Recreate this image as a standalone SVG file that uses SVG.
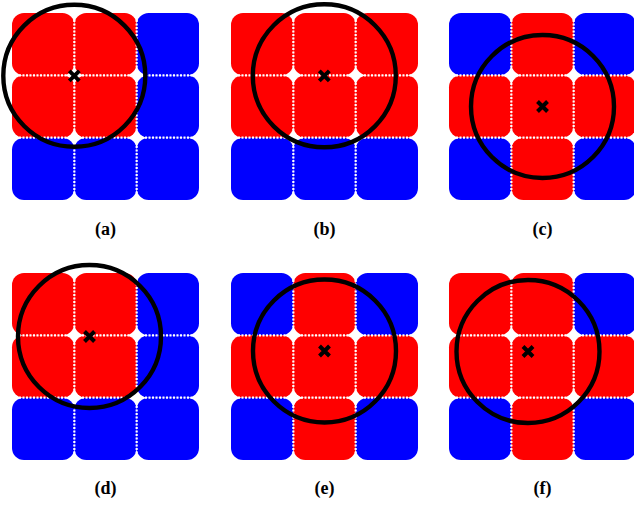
<svg xmlns="http://www.w3.org/2000/svg" xmlns:xlink="http://www.w3.org/1999/xlink" width="634" height="506" viewBox="0 0 634 506">
<style>
.r{fill:#ff0000}
.b{fill:#0000ff}
.grid line{stroke:#ffffff;stroke-width:2.2;stroke-dasharray:2 1.5}
.ring{fill:none;stroke:#000000;stroke-width:4.4}
.x{stroke:#000000;stroke-width:4;fill:none}
.lbl{font-family:"Liberation Serif","Times New Roman",serif;font-weight:bold;font-size:18px;fill:#000000;text-anchor:middle}
</style>
<defs>
<rect id="t" width="62.33" height="62.33" rx="12" ry="12"/>
<g id="gl" class="grid">
<line x1="62.33" y1="0" x2="62.33" y2="187"/>
<line x1="124.67" y1="0" x2="124.67" y2="187"/>
<line x1="0" y1="62.33" x2="187" y2="62.33"/>
<line x1="0" y1="124.67" x2="187" y2="124.67"/>
</g>
<path id="cx" d="M-5,-5L5,5M-5,5L5,-5"/>
</defs>

<g id="panel-a" transform="translate(12,13)">
<use href="#t" x="0" y="0" class="r"/><use href="#t" x="62.33" y="0" class="r"/><use href="#t" x="124.67" y="0" class="b"/>
<use href="#t" x="0" y="62.33" class="r"/><use href="#t" x="62.33" y="62.33" class="r"/><use href="#t" x="124.67" y="62.33" class="b"/>
<use href="#t" x="0" y="124.67" class="b"/><use href="#t" x="62.33" y="124.67" class="b"/><use href="#t" x="124.67" y="124.67" class="b"/>
<use href="#gl"/>
<circle class="ring" cx="62.3" cy="62.8" r="71"/>
<use href="#cx" x="62.3" y="62.8" class="x"/>
<text class="lbl" x="93.5" y="222">(a)</text>
</g>

<g id="panel-b" transform="translate(231,13)">
<use href="#t" x="0" y="0" class="r"/><use href="#t" x="62.33" y="0" class="r"/><use href="#t" x="124.67" y="0" class="r"/>
<use href="#t" x="0" y="62.33" class="r"/><use href="#t" x="62.33" y="62.33" class="r"/><use href="#t" x="124.67" y="62.33" class="r"/>
<use href="#t" x="0" y="124.67" class="b"/><use href="#t" x="62.33" y="124.67" class="b"/><use href="#t" x="124.67" y="124.67" class="b"/>
<use href="#gl"/>
<circle class="ring" cx="93.3" cy="62.8" r="71.5"/>
<use href="#cx" x="93.3" y="62.8" class="x"/>
<text class="lbl" x="93.5" y="222">(b)</text>
</g>

<g id="panel-c" transform="translate(449,13)">
<use href="#t" x="0" y="0" class="b"/><use href="#t" x="62.33" y="0" class="r"/><use href="#t" x="124.67" y="0" class="b"/>
<use href="#t" x="0" y="62.33" class="r"/><use href="#t" x="62.33" y="62.33" class="r"/><use href="#t" x="124.67" y="62.33" class="r"/>
<use href="#t" x="0" y="124.67" class="b"/><use href="#t" x="62.33" y="124.67" class="r"/><use href="#t" x="124.67" y="124.67" class="b"/>
<use href="#gl"/>
<circle class="ring" cx="93.5" cy="93.5" r="71.5"/>
<use href="#cx" x="93.5" y="93.5" class="x"/>
<text class="lbl" x="93.5" y="222">(c)</text>
</g>

<g id="panel-d" transform="translate(12,273)">
<use href="#t" x="0" y="0" class="r"/><use href="#t" x="62.33" y="0" class="r"/><use href="#t" x="124.67" y="0" class="b"/>
<use href="#t" x="0" y="62.33" class="r"/><use href="#t" x="62.33" y="62.33" class="r"/><use href="#t" x="124.67" y="62.33" class="b"/>
<use href="#t" x="0" y="124.67" class="b"/><use href="#t" x="62.33" y="124.67" class="b"/><use href="#t" x="124.67" y="124.67" class="b"/>
<use href="#gl"/>
<circle class="ring" cx="77.5" cy="63.5" r="71.5"/>
<use href="#cx" x="77.5" y="63.5" class="x"/>
<text class="lbl" x="93.5" y="221">(d)</text>
</g>

<g id="panel-e" transform="translate(231,273)">
<use href="#t" x="0" y="0" class="b"/><use href="#t" x="62.33" y="0" class="r"/><use href="#t" x="124.67" y="0" class="b"/>
<use href="#t" x="0" y="62.33" class="r"/><use href="#t" x="62.33" y="62.33" class="r"/><use href="#t" x="124.67" y="62.33" class="r"/>
<use href="#t" x="0" y="124.67" class="b"/><use href="#t" x="62.33" y="124.67" class="r"/><use href="#t" x="124.67" y="124.67" class="b"/>
<use href="#gl"/>
<circle class="ring" cx="93.5" cy="78" r="71.5"/>
<use href="#cx" x="93.5" y="78" class="x"/>
<text class="lbl" x="93.5" y="221">(e)</text>
</g>

<g id="panel-f" transform="translate(449,273)">
<use href="#t" x="0" y="0" class="r"/><use href="#t" x="62.33" y="0" class="r"/><use href="#t" x="124.67" y="0" class="b"/>
<use href="#t" x="0" y="62.33" class="r"/><use href="#t" x="62.33" y="62.33" class="r"/><use href="#t" x="124.67" y="62.33" class="r"/>
<use href="#t" x="0" y="124.67" class="b"/><use href="#t" x="62.33" y="124.67" class="r"/><use href="#t" x="124.67" y="124.67" class="b"/>
<use href="#gl"/>
<circle class="ring" cx="79" cy="78.5" r="71.5"/>
<use href="#cx" x="79" y="78.5" class="x"/>
<text class="lbl" x="93.5" y="221">(f)</text>
</g>
</svg>
